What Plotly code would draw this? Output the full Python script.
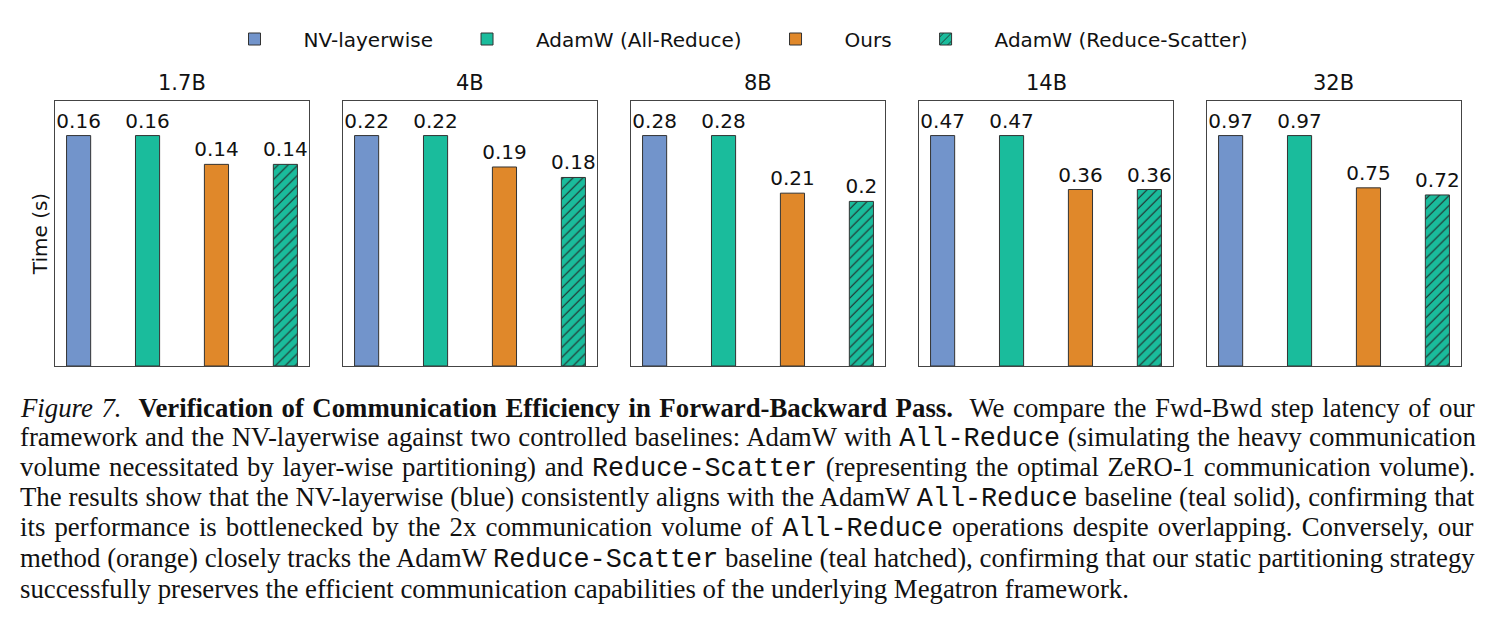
import plotly.graph_objects as go

models = ["1.7B", "4B", "8B", "14B", "32B"]
methods = ["NV-layerwise", "AdamW (All-Reduce)", "Ours", "AdamW (Reduce-Scatter)"]
nv_layerwise = [0.16, 0.22, 0.28, 0.47, 0.97]
adamw_allreduce = [0.16, 0.22, 0.28, 0.47, 0.97]
ours = [0.14, 0.19, 0.21, 0.36, 0.75]
adamw_reducescatter = [0.14, 0.18, 0.20, 0.36, 0.72]

series = [nv_layerwise, adamw_allreduce, ours, adamw_reducescatter]
colors = ["#7294CB", "#1ABC9C", "#E0882A", "#1ABC9C"]
hatched = [False, False, False, True]

W, H = 1496, 617
panel_left = [55, 343, 631, 919, 1207]
panel_w = 254
panel_top, panel_bottom = 101, 366

fig = go.Figure()
mono = "font-family:'Liberation Mono',monospace"

for i, m in enumerate(models):
    xa = "x" if i == 0 else f"x{i+1}"
    ya = "y" if i == 0 else f"y{i+1}"
    for j, name in enumerate(methods):
        v = series[j][i]
        marker = dict(color=colors[j], line=dict(color="#333333", width=1))
        if hatched[j]:
            marker["pattern"] = dict(shape="/", fgcolor="#222222", bgcolor=colors[j],
                                     size=7, solidity=0.15, fillmode="replace")
        fig.add_trace(go.Bar(
            x=[j], y=[v], width=0.35, name=name, marker=marker,
            text=[f"{v:g}"], textposition="outside", cliponaxis=False,
            constraintext="none",
            textfont=dict(family="DejaVu Sans", size=20, color="#111111"),
            showlegend=(i == 0), legendgroup=name, xaxis=xa, yaxis=ya,
        ))
    ymax = max(s[i] for s in series) * 1.15
    x0 = panel_left[i] / W
    x1 = (panel_left[i] + panel_w) / W
    axcommon = dict(showline=True, linecolor="#444444", linewidth=1, mirror=True,
                    showgrid=False, zeroline=False, ticks="", showticklabels=False)
    fig.layout[f"xaxis{'' if i == 0 else i+1}"] = dict(
        domain=[x0, x1], range=[-0.3425, 3.3425], anchor=ya, **axcommon)
    yd = dict(domain=[1 - panel_bottom / H, 1 - panel_top / H], range=[0, ymax],
              anchor=xa, **axcommon)
    if i == 0:
        yd["title"] = dict(text="Time (s)", font=dict(family="DejaVu Sans", size=20, color="#111111"),
                           standoff=1)
    fig.layout[f"yaxis{'' if i == 0 else i+1}"] = yd
    fig.add_annotation(text=m, x=(x0 + x1) / 2, y=1 - panel_top / H, xref="paper", yref="paper",
                       xanchor="center", yanchor="bottom", yshift=4, showarrow=False,
                       font=dict(family="DejaVu Sans", size=21, color="#111111"))

caption_lines = [
    "<i>Figure 7.</i>  <b>Verification of Communication Efficiency in Forward-Backward Pass.</b>  We compare the Fwd-Bwd step latency of our",
    f"framework and the NV-layerwise against two controlled baselines: AdamW with <span style=\"{mono}\">All-Reduce</span> (simulating the heavy communication",
    f"volume necessitated by layer-wise partitioning) and <span style=\"{mono}\">Reduce-Scatter</span> (representing the optimal ZeRO-1 communication volume).",
    f"The results show that the NV-layerwise (blue) consistently aligns with the AdamW <span style=\"{mono}\">All-Reduce</span> baseline (teal solid), confirming that",
    f"its performance is bottlenecked by the 2x communication volume of <span style=\"{mono}\">All-Reduce</span> operations despite overlapping. Conversely, our",
    f"method (orange) closely tracks the AdamW <span style=\"{mono}\">Reduce-Scatter</span> baseline (teal hatched), confirming that our static partitioning strategy",
    "successfully preserves the efficient communication capabilities of the underlying Megatron framework.",
]
word_spacing = [1.8, 0.86, 1.9, 0.18, 2.4, 0.05, 0.0]
for k, line in enumerate(caption_lines):
    yc = 408 + k * 30.1
    txt = f"<span style=\"word-spacing:{word_spacing[k]}px\">{line}</span>"
    fig.add_annotation(text=txt, x=18 / W, y=1 - yc / H, xref="paper", yref="paper",
                       xanchor="left", yanchor="middle", showarrow=False, align="left",
                       font=dict(family="Liberation Serif", size=26.8, color="#111111"))

fig.update_layout(
    width=W, height=H, margin=dict(l=0, r=0, t=0, b=0),
    paper_bgcolor="white", plot_bgcolor="white", barmode="overlay",
    legend=dict(orientation="h", x=0.5 - 19 / W, xanchor="center", y=1 - 39 / H, yanchor="middle",
                font=dict(family="DejaVu Sans", size=20, color="#111111"),
                itemwidth=88, traceorder="normal"),
    showlegend=True,
)
fig.write_html("out.html")
